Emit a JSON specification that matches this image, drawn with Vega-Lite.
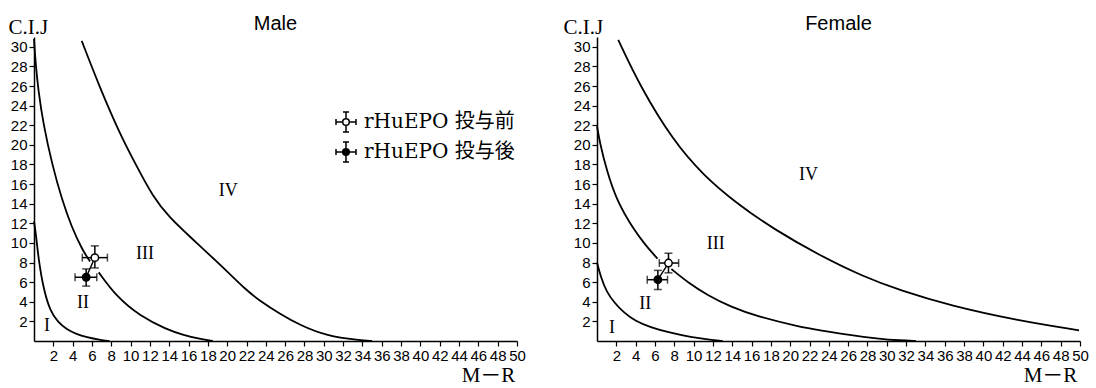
{
  "$schema": "https://vega.github.io/schema/vega-lite/v6.json",
  "background": "white",
  "padding": {"left": 8, "top": 14, "right": 0, "bottom": 0},
  "bounds": "flush",
  "spacing": 80,
  "resolve": {"scale": {"fill": "independent"}, "legend": {"fill": "independent"}},
  "datasets": {
    "curves": [
      {"sex": "Male", "curve": "m1", "x": 0, "y": 12.2},
      {"sex": "Male", "curve": "m1", "x": 0.2, "y": 10.9},
      {"sex": "Male", "curve": "m1", "x": 0.45, "y": 8.5},
      {"sex": "Male", "curve": "m1", "x": 0.96, "y": 5.4},
      {"sex": "Male", "curve": "m1", "x": 1.66, "y": 3.06},
      {"sex": "Male", "curve": "m1", "x": 2.5, "y": 1.9},
      {"sex": "Male", "curve": "m1", "x": 3.38, "y": 1.19},
      {"sex": "Male", "curve": "m1", "x": 4.4, "y": 0.7},
      {"sex": "Male", "curve": "m1", "x": 5.45, "y": 0.4},
      {"sex": "Male", "curve": "m1", "x": 6.8, "y": 0.12},
      {"sex": "Male", "curve": "m1", "x": 7.8, "y": 0},
      {"sex": "Male", "curve": "m2a", "x": 0, "y": 30.8},
      {"sex": "Male", "curve": "m2a", "x": 0.15, "y": 28.5},
      {"sex": "Male", "curve": "m2a", "x": 0.45, "y": 25.5},
      {"sex": "Male", "curve": "m2a", "x": 0.97, "y": 22.1},
      {"sex": "Male", "curve": "m2a", "x": 1.9, "y": 17.9},
      {"sex": "Male", "curve": "m2a", "x": 2.87, "y": 14.5},
      {"sex": "Male", "curve": "m2a", "x": 3.9, "y": 11.6},
      {"sex": "Male", "curve": "m2a", "x": 5.0, "y": 9.3},
      {"sex": "Male", "curve": "m2a", "x": 5.8, "y": 8.1},
      {"sex": "Male", "curve": "m2b", "x": 6.7, "y": 7.0},
      {"sex": "Male", "curve": "m2b", "x": 8.56, "y": 4.5},
      {"sex": "Male", "curve": "m2b", "x": 10.97, "y": 2.55},
      {"sex": "Male", "curve": "m2b", "x": 13.7, "y": 1.19},
      {"sex": "Male", "curve": "m2b", "x": 15.5, "y": 0.6},
      {"sex": "Male", "curve": "m2b", "x": 17.2, "y": 0.2},
      {"sex": "Male", "curve": "m2b", "x": 18.5, "y": 0},
      {"sex": "Male", "curve": "m3", "x": 4.94, "y": 30.6},
      {"sex": "Male", "curve": "m3", "x": 6.83, "y": 25.8},
      {"sex": "Male", "curve": "m3", "x": 8.9, "y": 21.1},
      {"sex": "Male", "curve": "m3", "x": 10.56, "y": 17.95},
      {"sex": "Male", "curve": "m3", "x": 12.32, "y": 14.68},
      {"sex": "Male", "curve": "m3", "x": 14.08, "y": 12.54},
      {"sex": "Male", "curve": "m3", "x": 15.84, "y": 10.91},
      {"sex": "Male", "curve": "m3", "x": 19.98, "y": 7.14},
      {"sex": "Male", "curve": "m3", "x": 21.84, "y": 5.3},
      {"sex": "Male", "curve": "m3", "x": 23.4, "y": 4.08},
      {"sex": "Male", "curve": "m3", "x": 25.5, "y": 2.75},
      {"sex": "Male", "curve": "m3", "x": 27.5, "y": 1.63},
      {"sex": "Male", "curve": "m3", "x": 30.3, "y": 0.51},
      {"sex": "Male", "curve": "m3", "x": 33.7, "y": 0.07},
      {"sex": "Male", "curve": "m3", "x": 35, "y": 0},
      {"sex": "Female", "curve": "f1", "x": 0, "y": 8.0},
      {"sex": "Female", "curve": "f1", "x": 0.4, "y": 6.5},
      {"sex": "Female", "curve": "f1", "x": 1.0, "y": 5.0},
      {"sex": "Female", "curve": "f1", "x": 1.8, "y": 3.9},
      {"sex": "Female", "curve": "f1", "x": 2.73, "y": 2.94},
      {"sex": "Female", "curve": "f1", "x": 4.0, "y": 2.0},
      {"sex": "Female", "curve": "f1", "x": 5.5, "y": 1.42},
      {"sex": "Female", "curve": "f1", "x": 7.5, "y": 0.85},
      {"sex": "Female", "curve": "f1", "x": 9.65, "y": 0.4},
      {"sex": "Female", "curve": "f1", "x": 12.1, "y": 0.07},
      {"sex": "Female", "curve": "f1", "x": 13, "y": 0},
      {"sex": "Female", "curve": "f2a", "x": 0, "y": 21.9},
      {"sex": "Female", "curve": "f2a", "x": 0.3, "y": 20.2},
      {"sex": "Female", "curve": "f2a", "x": 1.0, "y": 17.4},
      {"sex": "Female", "curve": "f2a", "x": 2.04, "y": 14.3},
      {"sex": "Female", "curve": "f2a", "x": 3.77, "y": 11.4},
      {"sex": "Female", "curve": "f2a", "x": 5.0, "y": 9.8},
      {"sex": "Female", "curve": "f2a", "x": 6.26, "y": 8.4},
      {"sex": "Female", "curve": "f2b", "x": 7.7, "y": 7.34},
      {"sex": "Female", "curve": "f2b", "x": 9.5, "y": 5.9},
      {"sex": "Female", "curve": "f2b", "x": 11.4, "y": 4.7},
      {"sex": "Female", "curve": "f2b", "x": 13.8, "y": 3.5},
      {"sex": "Female", "curve": "f2b", "x": 16.6, "y": 2.5},
      {"sex": "Female", "curve": "f2b", "x": 21.06, "y": 1.42},
      {"sex": "Female", "curve": "f2b", "x": 23.1, "y": 1.09},
      {"sex": "Female", "curve": "f2b", "x": 26.2, "y": 0.6},
      {"sex": "Female", "curve": "f2b", "x": 29, "y": 0.25},
      {"sex": "Female", "curve": "f2b", "x": 31.4, "y": 0.05},
      {"sex": "Female", "curve": "f2b", "x": 33, "y": 0},
      {"sex": "Female", "curve": "f3", "x": 2.2, "y": 30.7},
      {"sex": "Female", "curve": "f3", "x": 4.46, "y": 25.96},
      {"sex": "Female", "curve": "f3", "x": 7.9, "y": 20.4},
      {"sex": "Female", "curve": "f3", "x": 11.0, "y": 16.9},
      {"sex": "Female", "curve": "f3", "x": 14.5, "y": 14.0},
      {"sex": "Female", "curve": "f3", "x": 18.3, "y": 11.4},
      {"sex": "Female", "curve": "f3", "x": 23.1, "y": 8.7},
      {"sex": "Female", "curve": "f3", "x": 27.5, "y": 6.6},
      {"sex": "Female", "curve": "f3", "x": 31.4, "y": 5.15},
      {"sex": "Female", "curve": "f3", "x": 36.6, "y": 3.6},
      {"sex": "Female", "curve": "f3", "x": 43.5, "y": 2.1},
      {"sex": "Female", "curve": "f3", "x": 49.9, "y": 1.09}
    ],
    "means": [
      {"sex": "Male", "phase": "rHuEPO 投与前", "x": 6.3, "y": 8.5, "xlo": 5.0, "xhi": 7.6, "ylo": 7.45, "yhi": 9.7},
      {"sex": "Male", "phase": "rHuEPO 投与後", "x": 5.4, "y": 6.5, "xlo": 4.25, "xhi": 6.5, "ylo": 5.6, "yhi": 7.35},
      {"sex": "Female", "phase": "rHuEPO 投与前", "x": 7.4, "y": 7.95, "xlo": 6.45, "xhi": 8.45, "ylo": 6.95, "yhi": 8.95},
      {"sex": "Female", "phase": "rHuEPO 投与後", "x": 6.3, "y": 6.25, "xlo": 5.2, "xhi": 7.3, "ylo": 5.25, "yhi": 7.2}
    ],
    "zones": [
      {"sex": "Male", "label": "I", "x": 1.35, "y": 1.5},
      {"sex": "Male", "label": "II", "x": 5.07, "y": 3.9},
      {"sex": "Male", "label": "III", "x": 11.5, "y": 8.9},
      {"sex": "Male", "label": "IV", "x": 20.1, "y": 15.3},
      {"sex": "Female", "label": "I", "x": 1.56, "y": 1.32},
      {"sex": "Female", "label": "II", "x": 5.0, "y": 3.76},
      {"sex": "Female", "label": "III", "x": 12.3, "y": 9.85},
      {"sex": "Female", "label": "IV", "x": 21.9, "y": 16.95}
    ]
  },
  "config": {
    "view": {"stroke": null},
    "axis": {
      "domainColor": "black", "domainWidth": 1.5,
      "tickColor": "black", "tickWidth": 1.2, "tickSize": 5,
      "labelColor": "black", "labelFont": "Liberation Sans", "labelFontSize": 15, "labelPadding": 2,
      "labelFlush": false, "grid": false,
      "titleColor": "black", "titleFont": "Liberation Serif, Noto Sans CJK JP", "titleFontWeight": "normal", "titleFontSize": 21
    },
    "title": {"font": "Liberation Sans", "fontSize": 20, "fontWeight": "normal", "color": "black", "anchor": "middle", "frame": "group", "baseline": "alphabetic"},
    "text": {"font": "Liberation Serif", "fontSize": 18, "color": "black"}
  },
  "hconcat": [
    {
      "width": 483, "height": 304,
      "title": {"text": "Male", "offset": -18},
      "layer": [
        {
          "data": {"name": "curves"},
          "transform": [{"filter": "datum.sex === 'Male'"}],
          "mark": {"type": "line", "color": "black", "strokeWidth": 1.8, "interpolate": "basis"},
          "encoding": {
            "x": {"field": "x", "type": "quantitative", "scale": {"domain": [0, 50], "nice": false},
              "axis": {"values": [2,4,6,8,10,12,14,16,18,20,22,24,26,28,30,32,34,36,38,40,42,44,46,48,50], "tickCount": 60, "labelOverlap": false, "title": "M－R", "titleX": 454, "titleY": 40, "titleAlign": "center", "titleBaseline": "alphabetic", "titleFontSize": 21}},
            "y": {"field": "y", "type": "quantitative", "scale": {"domain": [0, 31], "nice": false},
              "axis": {"values": [2,4,6,8,10,12,14,16,18,20,22,24,26,28,30], "tickCount": 40, "labelOverlap": false, "title": "C.I.J", "titleAngle": 0, "titleX": -26, "titleY": -4, "titleAlign": "left", "titleBaseline": "alphabetic"}},
            "detail": {"field": "curve"}
          }
        },
        {
          "data": {"name": "zones"},
          "transform": [{"filter": "datum.sex === 'Male'"}],
          "mark": {"type": "text"},
          "encoding": {"x": {"field": "x", "type": "quantitative"}, "y": {"field": "y", "type": "quantitative"}, "text": {"field": "label"}}
        },
        {
          "data": {"name": "means"},
          "transform": [{"filter": "datum.sex === 'Male'"}],
          "layer": [
            {"mark": {"type": "line", "color": "black", "strokeWidth": 1.4}, "encoding": {"x": {"field": "x", "type": "quantitative"}, "y": {"field": "y", "type": "quantitative"}}},
            {"mark": {"type": "rule", "color": "black", "strokeWidth": 1.5}, "encoding": {"x": {"field": "xlo", "type": "quantitative"}, "x2": {"field": "xhi"}, "y": {"field": "y", "type": "quantitative"}}},
            {"mark": {"type": "rule", "color": "black", "strokeWidth": 1.5}, "encoding": {"y": {"field": "ylo", "type": "quantitative"}, "y2": {"field": "yhi"}, "x": {"field": "x", "type": "quantitative"}}},
            {"mark": {"type": "tick", "orient": "vertical", "color": "black", "size": 8, "thickness": 1.5}, "encoding": {"x": {"field": "xlo", "type": "quantitative"}, "y": {"field": "y", "type": "quantitative"}}},
            {"mark": {"type": "tick", "orient": "vertical", "color": "black", "size": 8, "thickness": 1.5}, "encoding": {"x": {"field": "xhi", "type": "quantitative"}, "y": {"field": "y", "type": "quantitative"}}},
            {"mark": {"type": "tick", "orient": "horizontal", "color": "black", "size": 8, "thickness": 1.5}, "encoding": {"x": {"field": "x", "type": "quantitative"}, "y": {"field": "ylo", "type": "quantitative"}}},
            {"mark": {"type": "tick", "orient": "horizontal", "color": "black", "size": 8, "thickness": 1.5}, "encoding": {"x": {"field": "x", "type": "quantitative"}, "y": {"field": "yhi", "type": "quantitative"}}},
            {
              "mark": {"type": "point", "shape": "circle", "filled": true, "size": 55, "stroke": "black", "strokeWidth": 1.5, "opacity": 1},
              "encoding": {
                "x": {"field": "x", "type": "quantitative"},
                "y": {"field": "y", "type": "quantitative"},
                "fill": {"field": "phase", "type": "nominal",
                  "scale": {"domain": ["rHuEPO 投与前", "rHuEPO 投与後"], "range": ["white", "black"]},
                  "legend": {
                    "orient": "none", "legendX": 301, "legendY": 74, "title": null, "padding": 0,
                    "symbolType": "M-1,0H-0.33M0.33,0H1M-1,-0.3V0.3M1,-0.3V0.3M0,-1V-0.33M0,0.33V1M-0.3,-1H0.3M-0.3,1H0.3M0.33,0A0.33,0.33,0,1,1,-0.33,0A0.33,0.33,0,1,1,0.33,0Z",
                    "symbolSize": 400, "symbolStrokeColor": "black", "symbolStrokeWidth": 1.5, "symbolOpacity": 1,
                    "labelFont": "DejaVu Serif, Noto Sans CJK JP", "labelFontSize": 20, "labelColor": "black", "labelOffset": 7, "rowPadding": 4, "labelLimit": 300
                  }
                }
              }
            }
          ]
        }
      ]
    },
    {
      "width": 483, "height": 304,
      "title": {"text": "Female", "offset": -18},
      "layer": [
        {
          "data": {"name": "curves"},
          "transform": [{"filter": "datum.sex === 'Female'"}],
          "mark": {"type": "line", "color": "black", "strokeWidth": 1.8, "interpolate": "basis"},
          "encoding": {
            "x": {"field": "x", "type": "quantitative", "scale": {"domain": [0, 50], "nice": false},
              "axis": {"values": [2,4,6,8,10,12,14,16,18,20,22,24,26,28,30,32,34,36,38,40,42,44,46,48,50], "tickCount": 60, "labelOverlap": false, "title": "M－R", "titleX": 453, "titleY": 40, "titleAlign": "center", "titleBaseline": "alphabetic", "titleFontSize": 21}},
            "y": {"field": "y", "type": "quantitative", "scale": {"domain": [0, 31], "nice": false},
              "axis": {"values": [2,4,6,8,10,12,14,16,18,20,22,24,26,28,30], "tickCount": 40, "labelOverlap": false, "title": "C.I.J", "titleAngle": 0, "titleX": -34, "titleY": -4, "titleAlign": "left", "titleBaseline": "alphabetic"}},
            "detail": {"field": "curve"}
          }
        },
        {
          "data": {"name": "zones"},
          "transform": [{"filter": "datum.sex === 'Female'"}],
          "mark": {"type": "text"},
          "encoding": {"x": {"field": "x", "type": "quantitative"}, "y": {"field": "y", "type": "quantitative"}, "text": {"field": "label"}}
        },
        {
          "data": {"name": "means"},
          "transform": [{"filter": "datum.sex === 'Female'"}],
          "layer": [
            {"mark": {"type": "line", "color": "black", "strokeWidth": 1.4}, "encoding": {"x": {"field": "x", "type": "quantitative"}, "y": {"field": "y", "type": "quantitative"}}},
            {"mark": {"type": "rule", "color": "black", "strokeWidth": 1.5}, "encoding": {"x": {"field": "xlo", "type": "quantitative"}, "x2": {"field": "xhi"}, "y": {"field": "y", "type": "quantitative"}}},
            {"mark": {"type": "rule", "color": "black", "strokeWidth": 1.5}, "encoding": {"y": {"field": "ylo", "type": "quantitative"}, "y2": {"field": "yhi"}, "x": {"field": "x", "type": "quantitative"}}},
            {"mark": {"type": "tick", "orient": "vertical", "color": "black", "size": 8, "thickness": 1.5}, "encoding": {"x": {"field": "xlo", "type": "quantitative"}, "y": {"field": "y", "type": "quantitative"}}},
            {"mark": {"type": "tick", "orient": "vertical", "color": "black", "size": 8, "thickness": 1.5}, "encoding": {"x": {"field": "xhi", "type": "quantitative"}, "y": {"field": "y", "type": "quantitative"}}},
            {"mark": {"type": "tick", "orient": "horizontal", "color": "black", "size": 8, "thickness": 1.5}, "encoding": {"x": {"field": "x", "type": "quantitative"}, "y": {"field": "ylo", "type": "quantitative"}}},
            {"mark": {"type": "tick", "orient": "horizontal", "color": "black", "size": 8, "thickness": 1.5}, "encoding": {"x": {"field": "x", "type": "quantitative"}, "y": {"field": "yhi", "type": "quantitative"}}},
            {
              "mark": {"type": "point", "shape": "circle", "filled": true, "size": 55, "stroke": "black", "strokeWidth": 1.5, "opacity": 1},
              "encoding": {
                "x": {"field": "x", "type": "quantitative"},
                "y": {"field": "y", "type": "quantitative"},
                "fill": {"field": "phase", "type": "nominal",
                  "scale": {"domain": ["rHuEPO 投与前", "rHuEPO 投与後"], "range": ["white", "black"]},
                  "legend": null}
              }
            }
          ]
        }
      ]
    }
  ]
}
